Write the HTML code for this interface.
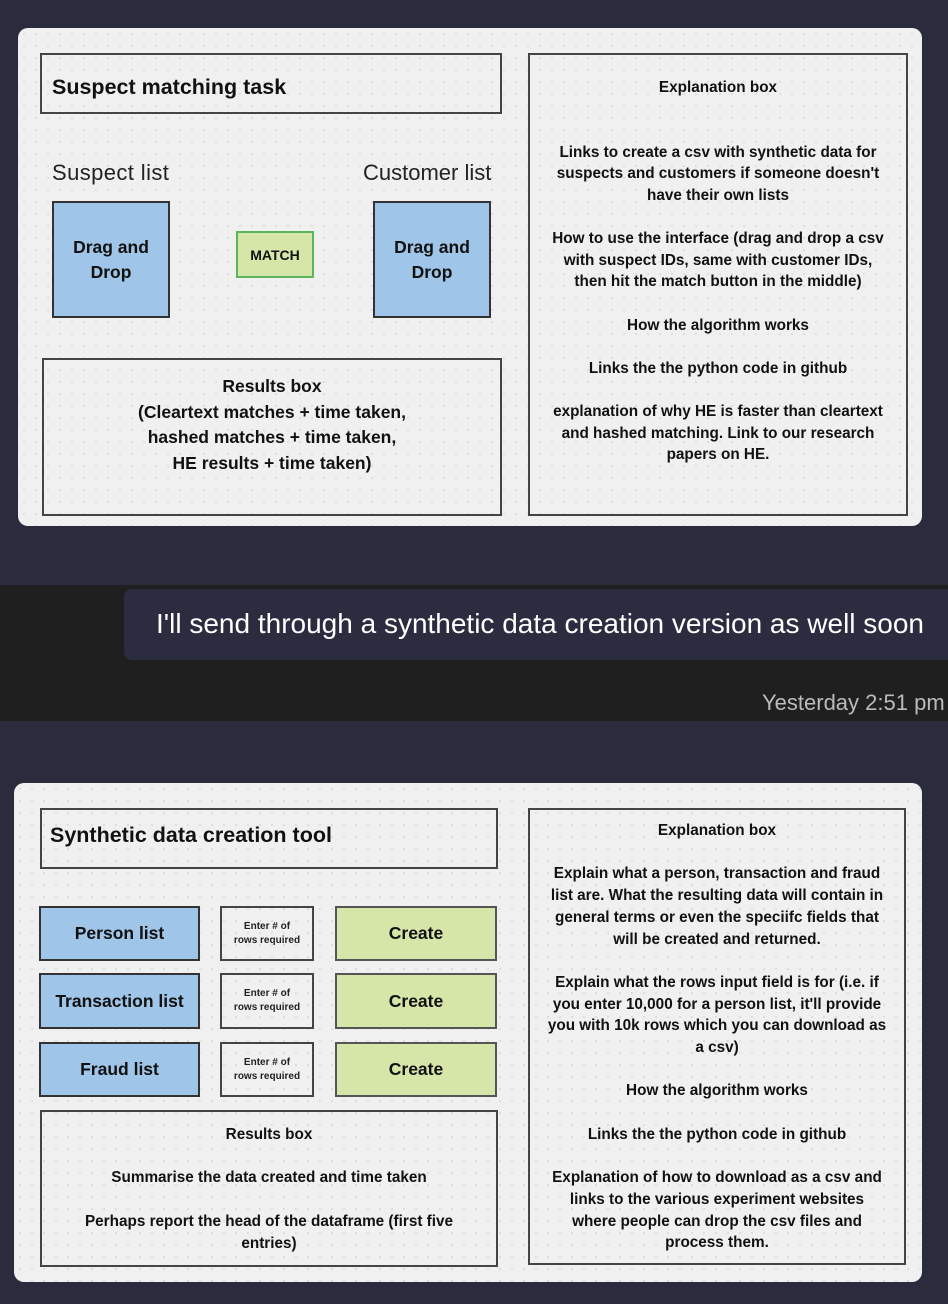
<!DOCTYPE html>
<html><head><style>
body{margin:0;width:948px;height:1304px;background:#2a2b3d;position:relative;overflow:hidden;font-family:"Liberation Sans",sans-serif;}
.a{position:absolute;box-sizing:border-box;}
.panel{background:#f0f0f0;border-radius:10px;background-image:radial-gradient(#d8d8d8 1px,transparent 1px);background-size:12px 12px;}
.bx{border:2px solid #444;}
.c{display:flex;align-items:center;justify-content:center;text-align:center;}
.blue{background:#9fc5e8;border:2px solid #333;font-weight:bold;color:#111;}
.green{background:#d5e6a8;border:2px solid #555;font-weight:bold;color:#111;}
.t{color:#111;font-weight:bold;text-align:center;white-space:nowrap;}
</style></head><body>
<div class="a panel" style="left:18px;top:28px;width:904px;height:498px;"></div>
<div class="a bx" style="left:40px;top:53px;width:462px;height:61px;"></div>
<div class="a" style="left:52px;top:75px;font-size:21.5px;font-weight:bold;color:#111;">Suspect matching task</div>
<div class="a" style="left:52px;top:160px;font-size:22px;letter-spacing:0.4px;color:#222;">Suspect list</div>
<div class="a" style="left:363px;top:160px;font-size:22px;color:#222;">Customer list</div>
<div class="a blue c" style="left:52px;top:201px;width:118px;height:117px;font-size:17.5px;line-height:25px;">Drag and<br>Drop</div>
<div class="a blue c" style="left:373px;top:201px;width:118px;height:117px;font-size:17.5px;line-height:25px;">Drag and<br>Drop</div>
<div class="a c" style="left:236px;top:231px;width:78px;height:47px;background:#d5e6a8;border:2px solid #5bb55b;font-size:14px;font-weight:bold;color:#111;">MATCH</div>
<div class="a bx" style="left:42px;top:358px;width:460px;height:158px;"></div>
<div class="a t" style="left:42px;top:374px;width:460px;font-size:17.5px;line-height:25.5px;">Results box<br>(Cleartext matches + time taken,<br>hashed matches + time taken,<br>HE results + time taken)</div>
<div class="a bx" style="left:528px;top:53px;width:380px;height:463px;"></div>
<div class="a t" style="left:530px;top:77px;width:376px;font-size:15.3px;line-height:21.6px;">Explanation box<br><br><br>Links to create a csv with synthetic data for<br>suspects and customers if someone doesn't<br>have their own lists<br><br>How to use the interface (drag and drop a csv<br>with suspect IDs, same with customer IDs,<br>then hit the match button in the middle)<br><br>How the algorithm works<br><br>Links the the python code in github<br><br>explanation of why HE is faster than cleartext<br>and hashed matching. Link to our research<br>papers on HE.</div>

<div class="a" style="left:0;top:585px;width:948px;height:136px;background:#1f1f1f;"></div>
<div class="a" style="left:124px;top:589px;width:830px;height:71px;background:#2b2c40;border-radius:8px;"></div>
<div class="a" style="left:156px;top:608px;font-size:28px;color:#fff;white-space:nowrap;">I'll send through a synthetic data creation version as well soon</div>
<div class="a" style="left:762px;top:690px;font-size:22px;color:#bbb;white-space:nowrap;">Yesterday 2:51 pm</div>

<div class="a panel" style="left:14px;top:783px;width:908px;height:499px;"></div>
<div class="a bx" style="left:40px;top:808px;width:458px;height:61px;"></div>
<div class="a" style="left:50px;top:823px;font-size:21.5px;font-weight:bold;color:#111;">Synthetic data creation tool</div>
<div class="a blue c" style="left:39px;top:906px;width:161px;height:55px;font-size:17.5px;">Person list</div>
<div class="a blue c" style="left:39px;top:973px;width:161px;height:56px;font-size:17.5px;">Transaction list</div>
<div class="a blue c" style="left:39px;top:1042px;width:161px;height:55px;font-size:17.5px;">Fraud list</div>
<div class="a bx c" style="left:220px;top:906px;width:94px;height:55px;font-size:10px;font-weight:bold;color:#222;line-height:14px;">Enter # of<br>rows required</div>
<div class="a bx c" style="left:220px;top:973px;width:94px;height:56px;font-size:10px;font-weight:bold;color:#222;line-height:14px;">Enter # of<br>rows required</div>
<div class="a bx c" style="left:220px;top:1042px;width:94px;height:55px;font-size:10px;font-weight:bold;color:#222;line-height:14px;">Enter # of<br>rows required</div>
<div class="a green c" style="left:335px;top:906px;width:162px;height:55px;font-size:17.5px;">Create</div>
<div class="a green c" style="left:335px;top:973px;width:162px;height:56px;font-size:17.5px;">Create</div>
<div class="a green c" style="left:335px;top:1042px;width:162px;height:55px;font-size:17.5px;">Create</div>
<div class="a bx" style="left:40px;top:1110px;width:458px;height:157px;"></div>
<div class="a t" style="left:40px;top:1124px;width:458px;font-size:15.3px;line-height:21.7px;">Results box<br><br>Summarise the data created and time taken<br><br>Perhaps report the head of the dataframe (first five<br>entries)</div>
<div class="a bx" style="left:528px;top:808px;width:378px;height:457px;"></div>
<div class="a t" style="left:530px;top:820px;width:374px;font-size:15.3px;line-height:21.7px;">Explanation box<br><br>Explain what a person, transaction and fraud<br>list are. What the resulting data will contain in<br>general terms or even the speciifc fields that<br>will be created and returned.<br><br>Explain what the rows input field is for (i.e. if<br>you enter 10,000 for a person list, it'll provide<br>you with 10k rows which you can download as<br>a csv)<br><br>How the algorithm works<br><br>Links the the python code in github<br><br>Explanation of how to download as a csv and<br>links to the various experiment websites<br>where people can drop the csv files and<br>process them.</div>
</body></html>
